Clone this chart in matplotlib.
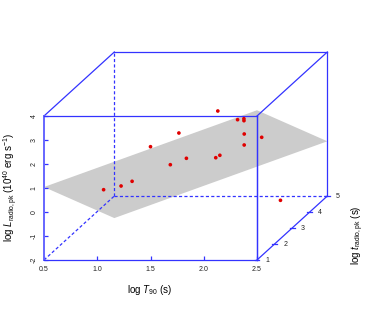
import matplotlib
matplotlib.use("Agg")
import matplotlib.pyplot as plt
import numpy as np

plt.rcParams['font.family'] = ['Liberation Sans', 'DejaVu Sans']
plt.rcParams['mathtext.fontset'] = 'custom'
plt.rcParams['mathtext.rm'] = 'Liberation Sans'
plt.rcParams['mathtext.it'] = 'Liberation Sans:italic'

# data: log T90 (x), log L_radio,pk (y), log t_pk,radio (z)
log_T90 = [0.779, 0.910, 1.030, 1.401, 1.422, 1.684, 1.573, 1.733, 1.788,
           2.066, 2.235, 2.278, 2.262, 2.149, 2.033, 2.214, 2.225]
log_L = [-0.204, -0.183, 0.079, 2.321, 0.904, 2.958, 1.171, 0.729, 0.896,
         3.942, 3.513, 3.488, 3.338, 2.317, 1.392, 1.779, -1.513]
log_t = [2.7, 2.9, 2.8, 1.6, 2.6, 1.5, 2.6, 3.3, 3.2,
         1.4, 1.5, 1.6, 1.7, 2.4, 3.1, 3.0, 4.0]

# fitted plane: y = a + b*x + c*z
plane_a, plane_b, plane_c = 1.23, 1.60, -0.99

x_ticks = [0.5, 1.0, 1.5, 2.0, 2.5]
y_ticks = [-2, -1, 0, 1, 2, 3, 4]
z_ticks = [1, 2, 3, 4, 5]

X0, X1, Y0, Y1, Z0, Z1 = 0.5, 2.5, -2, 4, 1, 5
DX = 17.5 / 106.0   # x data units per z unit
DY = 16.0 / 24.0    # y data units per z unit


def proj(x, y, z):
    x = np.asarray(x, float); y = np.asarray(y, float); z = np.asarray(z, float)
    return x + DX * (z - Z0), y + DY * (z - Z0)


W, H = 374, 324
fig = plt.figure(figsize=(W / 100, H / 100), dpi=100)
ax = fig.add_axes([44 / W, 64 / H, 213 / W, 144 / H])
ax.set_xlim(X0, X1)
ax.set_ylim(Y0, Y1)
ax.patch.set_alpha(0)

blue = '#3333ff'
for s in ax.spines.values():
    s.set_color(blue)
    s.set_linewidth(0.9)
ax.spines['left'].set_linewidth(1.4)
ax.spines['left'].set_color('#6666ff')

ax.set_xticks(x_ticks)
ax.set_xticklabels([f'{v:.1f}' for v in x_ticks])
ax.set_yticks(y_ticks)
ax.set_yticklabels([str(v) for v in y_ticks])
ax.tick_params(axis='both', direction='in', length=3, color=blue, width=0.9,
               labelsize=5, labelcolor='#222222')
ax.tick_params(axis='x', pad=4.5)
ax.tick_params(axis='y', pad=4.5, labelrotation=90)
for lab in ax.get_yticklabels():
    lab.set_va('center')

# plane polygon
px = [X0, X1, X1, X0]
pz = [Z0, Z0, Z1, Z1]
py = [plane_a + plane_b * a + plane_c * c for a, c in zip(px, pz)]
qx, qy = proj(px, py, pz)
ax.fill(qx, qy, color='#cccccc', lw=0, zorder=1, clip_on=False)

# box edges
solid = [((X0, Y1, Z0), (X0, Y1, Z1)), ((X0, Y1, Z1), (X1, Y1, Z1)),
         ((X1, Y1, Z0), (X1, Y1, Z1)), ((X1, Y1, Z1), (X1, Y0, Z1)),
         ((X1, Y0, Z0), (X1, Y0, Z1)), ((X1, Y0, Z0), (X1, Y1, Z0))]
dashed = [((X0, Y0, Z0), (X0, Y0, Z1)), ((X0, Y0, Z1), (X1, Y0, Z1)),
          ((X0, Y0, Z1), (X0, Y1, Z1))]
for (a, b) in solid:
    lx, ly = proj([a[0], b[0]], [a[1], b[1]], [a[2], b[2]])
    ax.plot(lx, ly, color=blue, lw=0.9, zorder=2, clip_on=False)
for (a, b) in dashed:
    lx, ly = proj([a[0], b[0]], [a[1], b[1]], [a[2], b[2]])
    ax.plot(lx, ly, color=blue, lw=0.9, ls=(0, (2.5, 1.8)), zorder=2, clip_on=False)

# depth ticks and labels
for zt in z_ticks:
    tx, ty = proj(X1, Y0, zt)
    ax.plot([tx - 0.022, tx + 0.022], [ty, ty], color=blue, lw=0.9, zorder=2, clip_on=False)
    ax.text(tx + 0.099, ty, str(zt), fontsize=5, color='#222222', ha='center', va='center',
            clip_on=False)

# points
sx, sy = proj(log_T90, log_L, log_t)
ax.scatter(sx, sy, s=7, color='#e00000', edgecolors='none', zorder=3, clip_on=False)

fig.text(150 / W, 1 - 290 / H, r'log $T_{90}$ (s)', fontsize=7, ha='center', va='center')
fig.text(11 / W, 1 - 188 / H, r'log $L_{\mathrm{radio,pk}}$ (10$^{40}$ erg s$^{-1}$)',
         fontsize=7, ha='center', va='center', rotation=90)
fig.text(358 / W, 1 - 235 / H, r'log $t_{\mathrm{radio,pk}}$ (s)', fontsize=7,
         ha='center', va='center', rotation=90)

fig.savefig('out.png', dpi=100)
